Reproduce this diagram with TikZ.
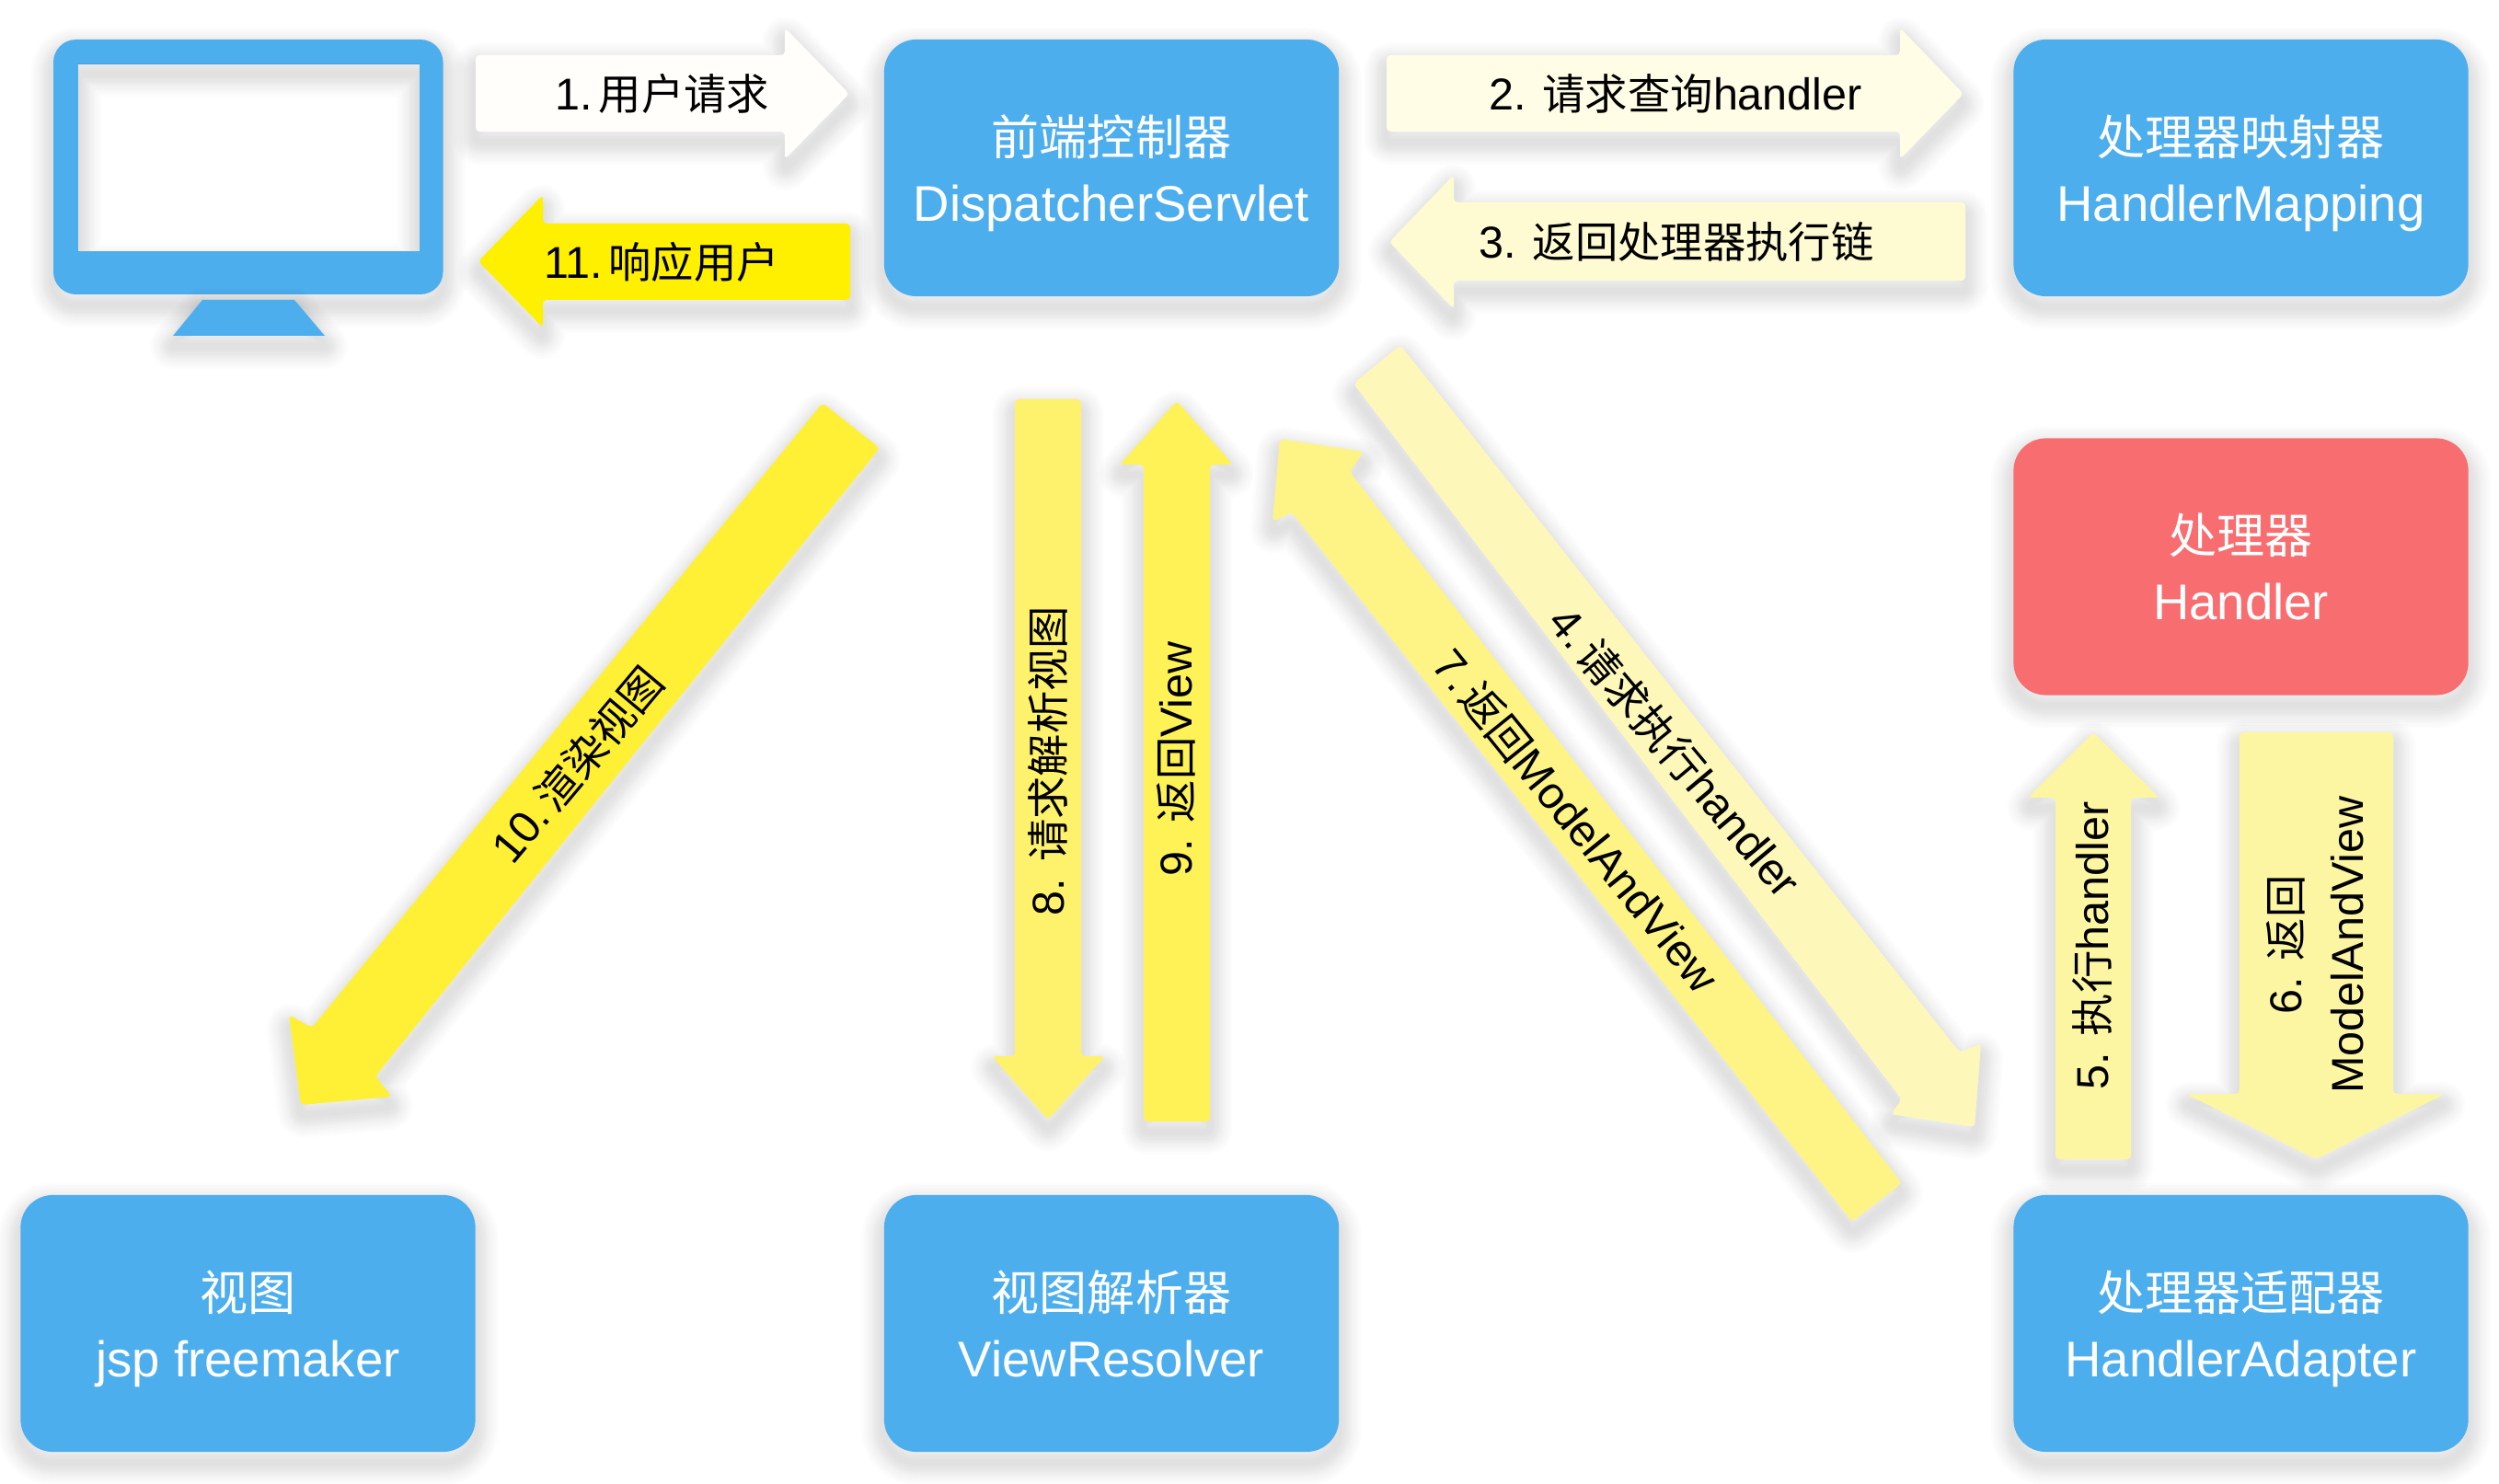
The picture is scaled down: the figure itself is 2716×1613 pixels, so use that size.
\documentclass[tikz,border=0pt]{standalone}
\usepackage{fontspec}
\setmainfont{Liberation Sans}
\newfontfamily\cjk[Scale=0.955]{Noto Sans CJK SC}
\newcommand{\cj}[1]{{\cjk #1}}
\newcommand{\nodepth}[1]{\raisebox{0pt}[\height][0pt]{#1}}
\newcommand{\tsp}{\hspace{.13em}}
\definecolor{boxblue}{HTML}{4DAEEE}
\definecolor{boxred}{HTML}{F76D70}
\definecolor{aone}{HTML}{FFFEFB}
\definecolor{atwo}{HTML}{FFFDE6}
\definecolor{athree}{HTML}{FEFBD3}
\definecolor{afour}{HTML}{FDF8BA}
\definecolor{afive}{HTML}{FCF6A3}
\definecolor{aseven}{HTML}{FDF485}
\definecolor{aeight}{HTML}{FEF16B}
\definecolor{anine}{HTML}{FFF257}
\definecolor{aten}{HTML}{FFF036}
\definecolor{aeleven}{HTML}{FFF000}
\tikzset{
  x=0.01cm,y=-0.01cm,
  softlayer/.style={preaction={draw=black,draw opacity=.013,line join=round,line width=#1,transform canvas={yshift=-3.2pt}}},
  softshadow/.style={softlayer=14pt,softlayer=12.5pt,softlayer=11pt,softlayer=9.5pt,softlayer=8pt,softlayer=7pt,softlayer=6pt,softlayer=5pt,softlayer=3.5pt,softlayer=2pt},
  flowbox/.style={softshadow,fill=#1,rounded corners=10pt,minimum width=4.94cm,minimum height=2.79cm,inner sep=0pt,
    text=white,align=center,font=\fontsize{15.5}{20.5}\selectfont},
  blockarrow/.style={softshadow,fill=#1,rounded corners=1.2pt},
  arrowlabel/.style={text=black,font=\fontsize{13.8}{19}\selectfont,inner sep=0pt,align=center},
}
\begin{document}
\begin{tikzpicture}
\useasboundingbox (0,0) rectangle (2716,1613);
\fill[white] (0,0) rectangle (2716,1613);
% monitor
\path[softshadow,fill=boxblue,rounded corners=7pt] (58,43) rectangle (481.5,320);
\path[softshadow,fill=boxblue] (220,326) -- (320,326) -- (353,365) -- (188,365) -- cycle;
\fill[white] (85,70) rectangle (456,273);
\begin{scope}
  \clip (85,70) rectangle (456,273);
  \foreach \w in {2,3.5,5,6,7,8,9.5,11,12.5,14}
    \draw[black,opacity=.013,line width=\w pt] (85,80) rectangle (456,290);
\end{scope}
% boxes
\node[flowbox=boxblue] (front) at (1208,182.5) {\cj{前端控制器}\\\nodepth{DispatcherServlet}};
\node[flowbox=boxblue] (mapping) at (2435.5,182.5) {\cj{处理器映射器}\\\nodepth{HandlerMapping}};
\node[flowbox=boxred] (handler) at (2435.5,616) {\cj{处理器}\\\nodepth{Handler}};
\node[flowbox=boxblue] (view) at (269.5,1438.5) {\cj{视图}\\\nodepth{jsp freemaker}};
\node[flowbox=boxblue] (resolver) at (1208,1438.5) {\cj{视图解析器}\\\nodepth{ViewResolver}};
\node[flowbox=boxblue] (adapter) at (2435.5,1438.5) {\cj{处理器适配器}\\\nodepth{HandlerAdapter}};
% arrows
\path[blockarrow=aone] (517,60) -- (853,60) -- (853,30) -- (923,102) -- (853,173) -- (853,143) -- (517,143) -- cycle;
\path[blockarrow=aeleven] (520,284) -- (590,212) -- (590,243) -- (924,243) -- (924,326) -- (590,326) -- (590,356) -- cycle;
\path[blockarrow=atwo] (1507,60) -- (2065,60) -- (2065,30) -- (2134,102) -- (2065,173) -- (2065,143) -- (1507,143) -- cycle;
\path[blockarrow=athree] (1510,263) -- (1580,190) -- (1580,220) -- (2136,220) -- (2136,305) -- (1580,305) -- (1580,336) -- cycle;
\path[blockarrow=afour] (1522,375) -- (2130,1144) -- (2153,1134) -- (2146,1225) -- (2055,1211) -- (2067,1195) -- (1471,417) -- cycle;
\path[blockarrow=aseven] (1391,477) -- (1482,491) -- (1467,513) -- (2067,1286) -- (2013,1328) -- (1404,557) -- (1383,567) -- cycle;
\path[blockarrow=aten] (894,438) -- (956,487) -- (408,1170) -- (426,1192) -- (327,1201) -- (314,1103) -- (339,1117) -- cycle;
\path[blockarrow=aeight] (1103,434) -- (1175,434) -- (1175,1148) -- (1201,1148) -- (1139,1217) -- (1078,1148) -- (1103,1148) -- cycle;
\path[blockarrow=anine] (1279,436) -- (1340,505) -- (1315,505) -- (1315,1219) -- (1243,1219) -- (1243,505) -- (1217,505) -- cycle;
\path[blockarrow=afive] (2275,796) -- (2347,867) -- (2316,867) -- (2316,1260) -- (2234,1260) -- (2234,867) -- (2204,867) -- cycle;
\path[blockarrow=afive] (2434,796) -- (2601,796) -- (2601,1189) -- (2657,1189) -- (2517,1260) -- (2376,1189) -- (2434,1189) -- cycle;
% labels
\node[arrowlabel] (l1) at (720,102) {1.\tsp\cj{用户请求}};
\node[arrowlabel] (l2) at (1821,102) {2. \cj{请求查询}handler};
\node[arrowlabel] (l3) at (1822,263) {3. \cj{返回处理器执行链}};
\node[arrowlabel,rotate=-50] (l4) at (1821,817) {4.\tsp\cj{请求执行}handler};
\node[arrowlabel,rotate=90] (l5) at (2274,1028) {5. \cj{执行}handler};
\node[arrowlabel,rotate=90] (l6) at (2516,1027) {6. \cj{返回}\\ModelAndView};
\node[arrowlabel,rotate=-51] (l7) at (1713,892) {7.\tsp\cj{返回}ModelAndView};
\node[arrowlabel,rotate=90] (l8) at (1139,827) {8. \cj{请求解析视图}};
\node[arrowlabel,rotate=90] (l9) at (1278,825) {9. \cj{返回}View};
\node[arrowlabel,rotate=50] (l10) at (627,831) {10.\tsp\cj{渲染视图}};
\node[arrowlabel] (l11) at (719,285) {11.\tsp\cj{响应用户}};
\end{tikzpicture}
\end{document}
